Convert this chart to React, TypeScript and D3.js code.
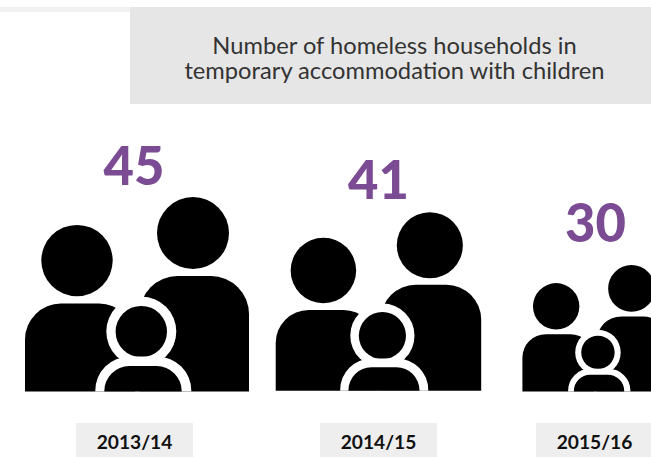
import React from 'react';
import * as d3 from 'd3';

const years = ['2013/14', '2014/15', '2015/16'];
const households = [45, 41, 30];
const titleLines = ['Number of homeless households in', 'temporary accommodation with children'];

const FONT = 'Lato, "Open Sans", sans-serif';
const PURPLE = '#7b4b94';

// centre of each year column, not evenly spaced in the original
const labelX = d3.scaleOrdinal<string, number>().domain(years).range([134.5, 378.5, 594.5]);
const numberX = d3.scaleOrdinal<string, number>().domain(years).range([134, 378.5, 595.5]);
const numberY = d3.scaleOrdinal<string, number>().domain(years).range([184.5, 199, 241.5]);
const iconLeft = d3.scaleOrdinal<string, number>().domain(years).range([25, 275.7, 522.4]);
const iconBottom = d3.scaleOrdinal<string, number>().domain(years).range([391.6, 390.7, 391.4]);
// icon width as drawn for each count
const iconWidth = d3.scaleLinear().domain([30, 41, 45]).range([145.5, 205.5, 224]);

// rounded-top body in icon units, y grows upward from the feet
function bodyPath(x0: number, x1: number, top: number, r: number) {
    const p = d3.path();
    p.moveTo(x0, 0);
    p.lineTo(x0, -top + r);
    p.arcTo(x0, -top, x0 + r, -top, r);
    p.lineTo(x1 - r, -top);
    p.arcTo(x1, -top, x1, -top + r, r);
    p.lineTo(x1, 0);
    p.closePath();
    return p.toString();
}

const Family: React.FC<{ year: string; value: number }> = ({ year, value }) => {
    const k = iconWidth(value) / 224;
    return (
        <g transform={`translate(${iconLeft(year)},${iconBottom(year)}) scale(${k})`}>
            <circle cx={52} cy={-131} r={35.7} fill="#000" />
            <circle cx={168} cy={-158.5} r={36} fill="#000" />
            <path d={bodyPath(114.5, 224, 115.5, 38)} fill="#000" />
            <path d={bodyPath(0, 110, 88, 36)} fill="#000" />
            <circle cx={116.3} cy={-60} r={35} fill="#fff" />
            <circle cx={116.3} cy={-60} r={25.7} fill="#000" />
            <path d={bodyPath(70.3, 166.3, 35, 34)} fill="#fff" />
            <path d={bodyPath(79.3, 156.7, 25.5, 25)} fill="#000" />
        </g>
    );
};

export default function App() {
    return (
        <svg
            width={651}
            height={457}
            style={{ position: 'absolute', left: 0, top: 0, background: '#fff' }}
            fontFamily={FONT}
        >
            <rect x={0} y={7} width={651} height={5} fill="#f1f1f1" />
            <rect x={130} y={7} width={521} height={97} fill="#e6e6e6" />
            {titleLines.map((line, i) => (
                <text key={line} x={394.5} y={54 + i * 25} textAnchor="middle" fontSize={23.7} fill="#333">
                    {line}
                </text>
            ))}

            {years.map((year, i) => (
                <g key={year}>
                    <Family year={year} value={households[i]} />
                    <text
                        x={numberX(year)}
                        y={numberY(year)}
                        textAnchor="middle"
                        fontSize={52.5}
                        fontWeight={900}
                        fill={PURPLE}
                    >
                        {households[i]}
                    </text>
                    <rect x={labelX(year) - 58.5} y={423} width={117} height={34} fill="#eeeeee" />
                    <text
                        x={labelX(year)}
                        y={449}
                        textAnchor="middle"
                        fontSize={19.2}
                        fontWeight={700}
                        fill="#111"
                    >
                        {year}
                    </text>
                </g>
            ))}
        </svg>
    );
}
